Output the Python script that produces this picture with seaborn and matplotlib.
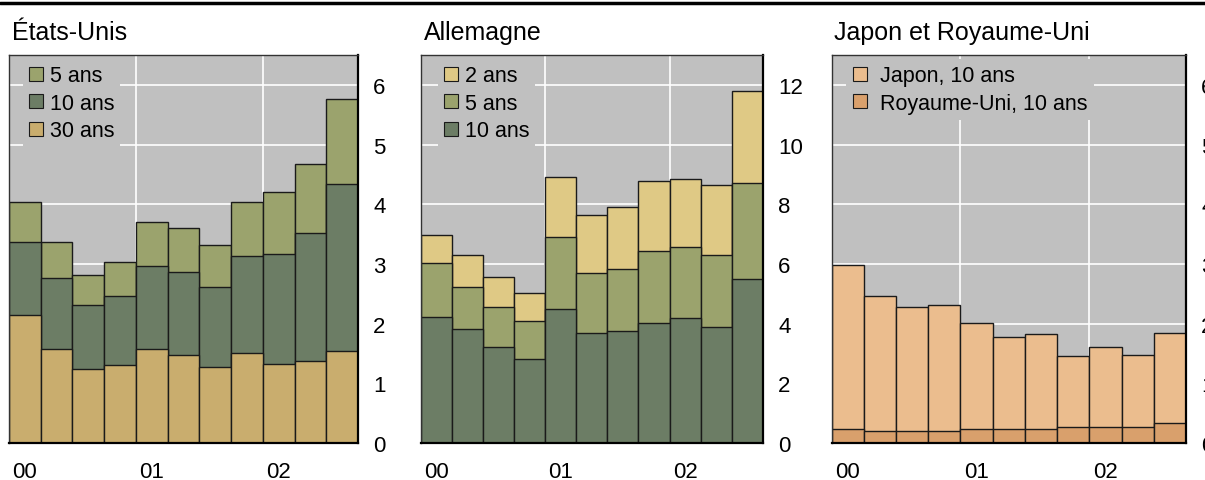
import numpy as np
import pandas as pd
import matplotlib
matplotlib.use("Agg")
import matplotlib.pyplot as plt
from matplotlib.patches import Patch
from matplotlib.lines import Line2D
import seaborn as sns

# ---------------- data ----------------
quarters = ["2000T1", "2000T2", "2000T3", "2000T4",
            "2001T1", "2001T2", "2001T3", "2001T4",
            "2002T1", "2002T2", "2002T3"]
year_labels = ["00", "01", "02"]
year_positions = [0, 4, 8]

# États-Unis (stacked components, bottom -> top)
us_30 = [2.14, 1.57, 1.24, 1.31, 1.57, 1.48, 1.27, 1.51, 1.33, 1.37, 1.54]
us_10 = [1.22, 1.20, 1.07, 1.16, 1.40, 1.39, 1.34, 1.63, 1.84, 2.14, 2.80]
us_5 = [0.67, 0.60, 0.50, 0.57, 0.73, 0.74, 0.70, 0.89, 1.04, 1.16, 1.43]

# Allemagne (bottom -> top)
de_10 = [4.21, 3.83, 3.21, 2.81, 4.49, 3.70, 3.76, 4.02, 4.18, 3.89, 5.50]
de_5 = [1.83, 1.41, 1.34, 1.27, 2.41, 2.01, 2.07, 2.41, 2.40, 2.42, 3.22]
de_2 = [0.94, 1.07, 1.02, 0.96, 2.02, 1.94, 2.09, 2.34, 2.28, 2.33, 3.08]

# Japon et Royaume-Uni (bottom -> top)
uk_10 = [0.24, 0.20, 0.20, 0.20, 0.24, 0.24, 0.24, 0.27, 0.27, 0.27, 0.34]
jp_10 = [2.75, 2.26, 2.08, 2.12, 1.77, 1.54, 1.58, 1.18, 1.34, 1.21, 1.51]

# ---------------- style ----------------
sns.set_style("white")
plt.rcParams["font.family"] = ["Liberation Sans", "DejaVu Sans"]
plt.rcParams["text.color"] = "black"
plt.rcParams["xtick.color"] = "black"
plt.rcParams["ytick.color"] = "black"
plt.rcParams["xtick.labelcolor"] = "black"
plt.rcParams["ytick.labelcolor"] = "black"
FS_TITLE = 18
FS_TICK = 16
FS_LEG = 15.5

BG = "#c0c0c0"
C_5 = "#9ba36d"
C_10 = "#6c7d65"
C_30 = "#c9ad6e"
C_2 = "#dfc985"
C_JP = "#ebbd8e"
C_UK = "#d9a06c"
EDGE = "#1a1a1a"

panels = [
    dict(title="États-Unis",
         layers=[("30 ans", us_30, C_30), ("10 ans", us_10, C_10), ("5 ans", us_5, C_5)],
         ymax=6.5, yticks=[0, 1, 2, 3, 4, 5, 6],
         rect=[9, 358], hpad=0.3, legx=0.039),
    dict(title="Allemagne",
         layers=[("10 ans", de_10, C_10), ("5 ans", de_5, C_5), ("2 ans", de_2, C_2)],
         ymax=13.0, yticks=[0, 2, 4, 6, 8, 10, 12],
         rect=[420.5, 763], hpad=0.3, legx=0.050),
    dict(title="Japon et Royaume-Uni",
         layers=[("Royaume-Uni, 10 ans", uk_10, C_UK), ("Japon, 10 ans", jp_10, C_JP)],
         ymax=6.5, yticks=[0, 1, 2, 3, 4, 5, 6],
         rect=[831.5, 1186], hpad=0.6, legx=0.042),
]

W, H = 1205, 481
fig = plt.figure(figsize=(W / 100, H / 100), dpi=100)

ax_top, ax_bot = 56, 444

for p in panels:
    x0, x1 = p["rect"]
    ax = fig.add_axes([x0 / W, (H - ax_bot) / H, (x1 - x0) / W, (ax_bot - ax_top) / H])
    ax.set_facecolor(BG)

    names = [l[0] for l in p["layers"]]
    vals = np.array([l[1] for l in p["layers"]], dtype=float)
    cols = [l[2] for l in p["layers"]]
    cum = np.cumsum(vals, axis=0)
    handles = []
    for i in range(len(names) - 1, -1, -1):
        df = pd.DataFrame({"q": quarters, "v": cum[i]})
        sns.barplot(data=df, x="q", y="v", order=quarters, color=cols[i],
                    saturation=1, width=1.0, edgecolor=EDGE, linewidth=1.0,
                    ax=ax, zorder=2)
        handles.append(Patch(facecolor=cols[i], edgecolor=EDGE, linewidth=0.8, label=names[i]))

    ax.set_xlim(-0.5, len(quarters) - 0.5)
    ax.set_ylim(0, p["ymax"])
    ax.set_xlabel("")
    ax.set_ylabel("")

    ax.set_xticks(year_positions)
    ax.set_xticklabels(year_labels, fontsize=FS_TICK, color="black")
    ax.set_xticks([3.5, 7.5], minor=True)
    ax.yaxis.tick_right()
    ax.set_yticks(p["yticks"])
    ax.set_yticklabels([str(t) for t in p["yticks"]], fontsize=FS_TICK, color="black")
    ax.tick_params(axis="both", which="both", length=0)
    ax.tick_params(axis="x", pad=13)
    ax.tick_params(axis="y", pad=11)

    ax.set_axisbelow(True)
    ax.grid(False)
    ax.grid(True, axis="y", which="major", color="white", linewidth=1.2)
    ax.grid(True, axis="x", which="minor", color="white", linewidth=1.2)

    for side in ["left", "top"]:
        ax.spines[side].set_color("#333333")
        ax.spines[side].set_linewidth(1.0)
    for side in ["right", "bottom"]:
        ax.spines[side].set_color("black")
        ax.spines[side].set_linewidth(1.6)

    leg = ax.legend(handles=handles, loc="upper left", bbox_to_anchor=(p["legx"], 0.99),
                    fontsize=FS_LEG, frameon=True, facecolor=BG, edgecolor=BG, framealpha=1,
                    handlelength=0.65, handleheight=0.65, handletextpad=p["hpad"],
                    labelspacing=0.3, borderpad=0.3, borderaxespad=0.0, fancybox=False,
                    labelcolor="black")
    leg.get_frame().set_linewidth(0)

    fig.text(x0 / W + 3 / W, 1 - 40 / H, p["title"], fontsize=FS_TITLE,
             ha="left", va="baseline", color="black")

# top rule across the figure
fig.add_artist(Line2D([0, 1], [1 - 4 / H, 1 - 4 / H], transform=fig.transFigure,
                      color="black", linewidth=2.5))

fig.savefig("out.png", dpi=100)
